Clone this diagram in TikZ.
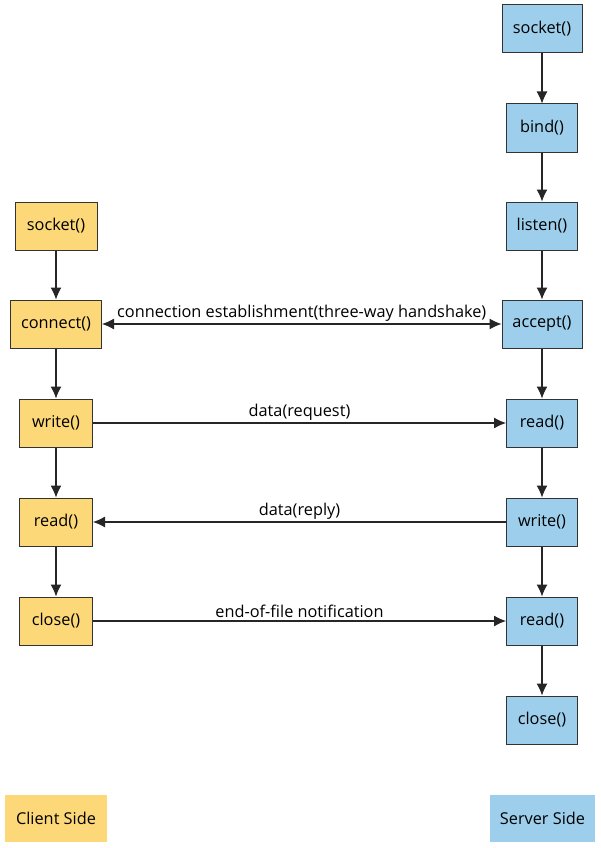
\documentclass[tikz,border=0pt]{standalone}
\usepackage{fontspec}
\setmainfont{Open Sans}
\usetikzlibrary{arrows.meta}
\definecolor{cy}{HTML}{FDD878}
\definecolor{sb}{HTML}{9DCFEC}
\definecolor{ln}{HTML}{333333}
\begin{document}
\begin{tikzpicture}[x=1pt,y=-1pt,
  every node/.style={font=\fontsize{16.3}{19}\selectfont},
  cbox/.style={draw=ln,line width=1pt,fill=cy,minimum height=48pt,inner xsep=3pt},
  sbox/.style={draw=ln,line width=1pt,fill=sb,minimum height=48pt,inner xsep=3pt},
  tip/.tip={Latex[length=12pt,width=11pt]},
  flow/.style={draw=black!85,line width=1.1pt,-tip},
  lab/.style={font=\fontsize{16.3}{19}\selectfont,inner sep=2.5pt}]
\useasboundingbox (0,0) rectangle (600,848);
% client
\node[cbox,minimum width=82pt] (cs) at (56,226) {socket()};
\node[cbox,minimum width=91pt] (cc) at (56,324) {connect()};
\node[cbox,minimum width=73pt] (cw) at (56,423) {write()};
\node[cbox,minimum width=73pt] (cr) at (56,522) {read()};
\node[cbox,minimum width=73pt] (cx) at (56,621) {close()};
% server
\node[sbox,minimum width=80pt] (ss) at (542,29) {socket()};
\node[sbox,minimum width=71pt] (sb) at (542,128) {bind()};
\node[sbox,minimum width=71pt] (sl) at (542,226) {listen()};
\node[sbox,minimum width=80pt] (sa) at (542,324) {accept()};
\node[sbox,minimum width=71pt] (sr) at (542,423) {read()};
\node[sbox,minimum width=71pt] (sw) at (542,522) {write()};
\node[sbox,minimum width=71pt] (sr2) at (542,621) {read()};
\node[sbox,minimum width=71pt] (sx) at (542,720) {close()};
% legend
\node[fill=cy,minimum width=102pt,minimum height=47pt] (lc) at (56,818.5) {Client Side};
\node[fill=sb,minimum width=105pt,minimum height=47pt] (ls) at (542.5,818.5) {Server Side};
% vertical flows
\draw[flow] (cs) -- (cc);
\draw[flow] (cc) -- (cw);
\draw[flow] (cw) -- (cr);
\draw[flow] (cr) -- (cx);
\draw[flow] (ss) -- (sb);
\draw[flow] (sb) -- (sl);
\draw[flow] (sl) -- (sa);
\draw[flow] (sa) -- (sr);
\draw[flow] (sr) -- (sw);
\draw[flow] (sw) -- (sr2);
\draw[flow] (sr2) -- (sx);
% horizontal
\draw[flow,tip-tip] (cc) -- node[lab,above] {connection establishment(three-way handshake)} (sa);
\draw[flow] (cw) -- node[lab,above] {data(request)} (sr);
\draw[flow] (sw) -- node[lab,above] {data(reply)} (cr);
\draw[flow] (cx) -- node[lab,above] {end-of-file notification} (sr2);
\end{tikzpicture}
\end{document}
